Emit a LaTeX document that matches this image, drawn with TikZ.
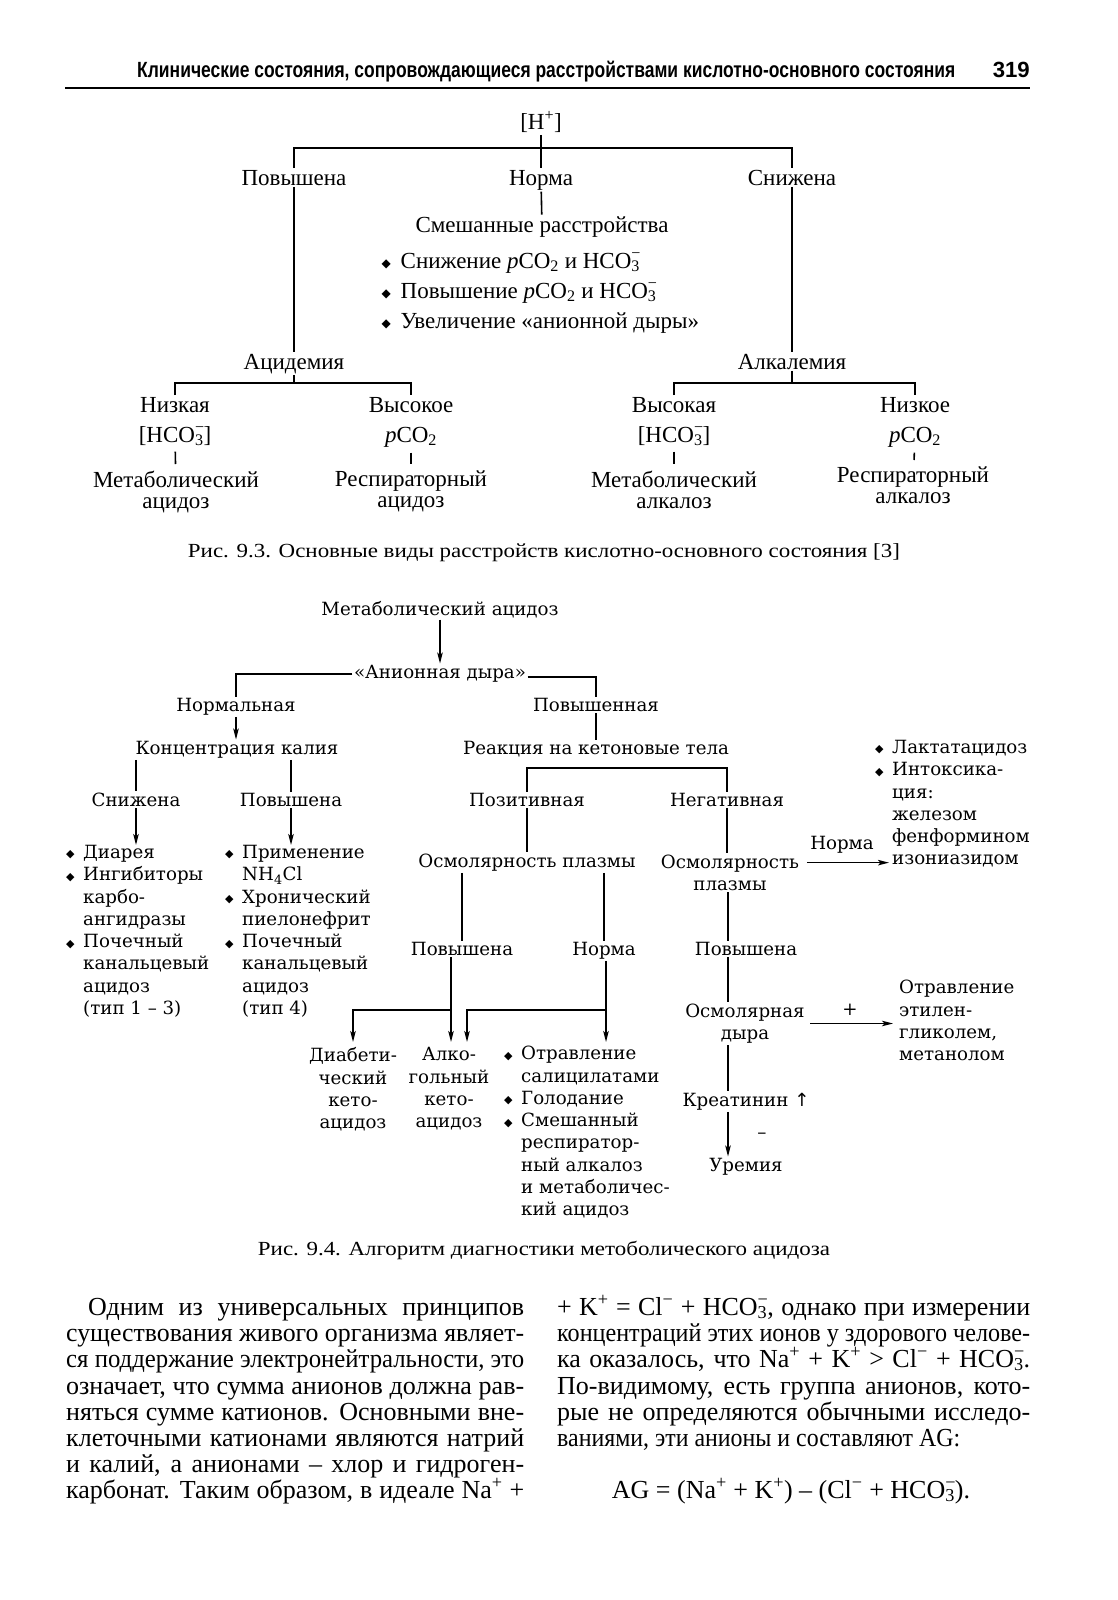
\documentclass[tikz,border=0pt]{standalone}
\usepackage{fontspec}
\usepackage{graphicx}
\usetikzlibrary{arrows.meta,calc}
\setmainfont{Liberation Serif}
\newfontfamily\dvs{DejaVu Serif}
\newfontfamily\dvsans{DejaVu Sans}
\newfontfamily\lsans{Liberation Sans}
\newcommand\fA{\fontsize{23}{21.5}\selectfont}
\newcommand\fB{\dvs\fontsize{18.2}{22.3}\selectfont}
\newcommand\fC{\fontsize{26}{26}\selectfont}
\newcommand\sbsp[2]{\rlap{\textsuperscript{#2}}\textsubscript{#1}}
\newcommand\hco{HCO\sbsp{3}{−}}
\newcommand\pco{\textit{p}CO\textsubscript{2}}
\newcommand\bulA{\makebox[19pt][l]{\raisebox{1pt}{\dvsans\fontsize{12}{12}\selectfont ◆}}}
\newcommand\bulB{\makebox[17pt][l]{\raisebox{0.5pt}{\dvsans\fontsize{11}{11}\selectfont ◆}}}
\newcommand\indB{\hspace*{17pt}}
\newsavebox\jlbox
\newcommand\jl[2]{\sbox\jlbox{#2}\ifdim\wd\jlbox>#1\relax\resizebox{#1}{\height}{\usebox\jlbox}\else\makebox[#1][s]{#2}\fi}
\newcommand\fitw[2]{\resizebox{#1}{\height}{#2}}
\tikzset{
  ln/.style={line width=1.6pt},
  arr/.style={line width=1.5pt,-{Stealth[length=11pt,width=5.5pt,inset=2.5pt]}},
  tA/.style={font=\fA, inner sep=1.5pt, align=center},
  tB/.style={font=\fB, inner sep=1.5pt, align=center},
  lB/.style={font=\fB, inner sep=0pt, align=left, anchor=north west},
  body/.style={font=\fC, inner sep=0pt, anchor=base west},
  short/.style={shorten <=4pt, shorten >=5pt}
}
\begin{document}
\begin{tikzpicture}[x=1pt,y=1pt]
\fill[white] (0,0) rectangle (1117,-1600);
\useasboundingbox (0,0) rectangle (1117,-1600);

% ---------- header ----------
\node[anchor=base west, inner sep=0pt, font=\lsans\bfseries\fontsize{22}{22}\selectfont] (hdr) at (137,-78)
  {\fitw{818pt}{Клинические состояния, сопровождающиеся расстройствами кислотно-основного состояния}};
\node[anchor=base east, inner sep=0pt, font=\lsans\bfseries\fontsize{22}{22}\selectfont] (pg) at (1030,-78) {\fitw{37pt}{319}};
\coordinate (ruleL) at (65,-88);
\coordinate (ruleR) at (1030,-88);
\draw[line width=2pt] (ruleL) -- (ruleR);

% ---------- Fig 9.3 ----------
\node[tA, anchor=base] (H) at (541,-130) {[H\textsuperscript{+}]};
\node[tA, anchor=base] (pov1) at (294,-185) {Повышена};
\node[tA, anchor=base] (norm1) at (541,-185) {Норма};
\node[tA, anchor=base] (sni1) at (792,-185) {Снижена};
\node[tA, anchor=base] (mix) at (542,-232) {Смешанные расстройства};
\node[tA, anchor=base west] (b1) at (380,-268) {\bulA Снижение \pco{} и \hco};
\node[tA, anchor=base west] (b2) at (380,-298) {\bulA Повышение \pco{} и \hco};
\node[tA, anchor=base west] (b3) at (380,-328) {\bulA Увеличение «анионной дыры»};
\node[tA, anchor=base] (acid) at (294,-369) {Ацидемия};
\node[tA, anchor=base] (alk) at (792,-369) {Алкалемия};
\node[tA, anchor=base] (n1) at (175,-412) {Низкая};
\node[tA, anchor=base] (v1) at (411,-412) {Высокое};
\node[tA, anchor=base] (v2) at (674,-412) {Высокая};
\node[tA, anchor=base] (n2) at (915,-412) {Низкое};
\node[tA, anchor=base] (h1) at (175,-442) {[\hco]};
\node[tA, anchor=base] (p1) at (411,-442) {\pco};
\node[tA, anchor=base] (h2) at (674,-442) {[\hco]};
\node[tA, anchor=base] (p2) at (915,-442) {\pco};
\node[tA, anchor=north] (m1) at (176,-469) {Метаболический\\ацидоз};
\node[tA, anchor=north] (r1) at (411,-469) {Респираторный\\ацидоз};
\node[tA, anchor=north] (m2) at (674,-469) {Метаболический\\алкалоз};
\node[tA, anchor=north] (r2) at (913,-465) {Респираторный\\алкалоз};

\coordinate (bar1) at (541,-148);
\coordinate (bar2) at (294,-383);
\coordinate (bar3) at (792,-383);
\draw[ln] (H) -- (norm1);
\draw[ln] (pov1.north) |- (bar1) -| (sni1.north);
\draw[ln] (norm1) -- (mix);
\draw[ln] (pov1) -- (acid);
\draw[ln] (sni1) -- (alk);
\draw[ln] (acid) -- (bar2);
\draw[ln] (n1.north) |- (bar2) -| (v1.north);
\draw[ln] (alk) -- (bar3);
\draw[ln] (v2.north) |- (bar3) -| (n2.north);
\draw[ln, short] (h1) -- (m1);
\draw[ln, short] (p1) -- (r1);
\draw[ln, short] (h2) -- (m2);
\draw[ln, short] (p2) -- (r2);

\node[anchor=base, inner sep=0pt, font=\fontsize{20}{20}\selectfont] (cap1) at (544,-557)
  {\fitw{712pt}{Рис. 9.3. Основные виды расстройств кислотно-основного состояния [3]}};

% ---------- Fig 9.4 ----------
\node[tB, anchor=base] (ma) at (440,-615.5) {Метаболический ацидоз};
\node[tB, anchor=base] (ag) at (440,-678.5) {«Анионная дыра»};
\node[tB, anchor=base] (norm2) at (236,-711.5) {Нормальная};
\node[tB, anchor=base] (pov2) at (596,-711.5) {Повышенная};
\node[tB, anchor=base] (kal) at (237,-754.5) {Концентрация калия};
\node[tB, anchor=base] (ket) at (596,-754.5) {Реакция на кетоновые тела};
\node[tB, anchor=base] (sn2) at (136,-806.5) {Снижена};
\node[tB, anchor=base] (pv2) at (291,-806.5) {Повышена};
\node[tB, anchor=base] (pos) at (527,-806.5) {Позитивная};
\node[tB, anchor=base] (neg) at (727,-806.5) {Негативная};
\node[tB, anchor=base] (osm1) at (527,-867.5) {Осмолярность плазмы};
\node[tB, anchor=north] (osm2) at (730,-853) {Осмолярность\\плазмы};
\node[lB] (lst) at (875,-740) {\bulB Лактатацидоз\\\bulB Интоксика-\\\indB ция:\\\indB железом\\\indB фенформином\\\indB изониазидом};
\node[tB, anchor=base] (lblN) at (842,-849.5) {Норма};
\node[tB, anchor=base] (pov3) at (462,-955.5) {Повышена};
\node[tB, anchor=base] (nrm3) at (604,-955.5) {Норма};
\node[tB, anchor=base] (pov4) at (746,-955.5) {Повышена};
\node[tB, anchor=north] (osmg) at (745,-1002) {Осмолярная\\дыра};
\node[tB, anchor=base] (lblP) at (850,-1015) {+};
\node[lB] (poison) at (899,-980) {Отравление\\этилен-\\гликолем,\\метанолом};
\node[tB, anchor=base] (kreat) at (746,-1106.5) {Креатинин {\dvsans↑}};
\node[tB, anchor=base] (lblM) at (762,-1138) {–};
\node[tB, anchor=base] (urem) at (746,-1171.5) {Уремия};

\node[lB] (list1) at (66,-845) {\bulB Диарея\\\bulB Ингибиторы\\\indB карбо-\\\indB ангидразы\\\bulB Почечный\\\indB канальцевый\\\indB ацидоз\\\indB (тип 1 – 3)};
\node[lB] (list2) at (225,-845) {\bulB Применение\\\indB NH\textsubscript{4}Cl\\\bulB Хронический\\\indB пиелонефрит\\\bulB Почечный\\\indB канальцевый\\\indB ацидоз\\\indB (тип 4)};

\node[tB, anchor=north] (diab) at (353,-1046) {Диабети-\\ческий\\кето-\\ацидоз};
\node[tB, anchor=north] (alko) at (449,-1046) {Алко-\\гольный\\кето-\\ацидоз};
\node[lB] (lst3) at (504,-1046) {\bulB Отравление\\\indB салицилатами\\\bulB Голодание\\\bulB Смешанный\\\indB респиратор-\\\indB ный алкалоз\\\indB и метаболичес-\\\indB кий ацидоз};

\coordinate (rl) at (728,0);
\coordinate (lxA) at (451,0);
\coordinate (lxB) at (606,0);
\coordinate (lxC) at (467,0);
\coordinate (jA) at (451,-1010);
\coordinate (jB) at (606,-1010);
\coordinate (kb) at (596,-768);

\draw[arr] (ma) -- (ag);
\draw[ln] (ag.west) -| (norm2.north);
\draw[ln] ([yshift=-3pt]ag.east) -| (pov2.north);
\draw[arr] (norm2.south) -- (norm2.south |- kal.north);
\draw[ln] (pov2) -- (ket);
\draw[ln] (kal.south -| sn2) -- (sn2.north);
\draw[ln] (kal.south -| pv2) -- (pv2.north);
\draw[arr] (sn2.south) -- (sn2.south |- list1.north);
\draw[arr] (pv2.south) -- (pv2.south |- list2.north);
\draw[ln] (pos.north) |- (kb) -| (neg.north);
\draw[ln] (pos) -- (osm1);
\draw[ln] (neg.south) -- (neg.south |- osm2.north);
\draw[arr, shorten <=6pt] (osm2.east |- osm1) -- ($(lst.west |- osm1)+(14pt,0)$);
\draw[ln] (osm1.south -| pov3) -- (pov3.north);
\draw[ln] (osm1.south -| nrm3) -- (nrm3.north);
\draw[ln] (osm2.south -| rl) -- (pov4.north -| rl);
\draw[ln] (pov4.south -| rl) -- (osmg.north -| rl);
\draw[arr, shorten <=4pt] (osmg.east) -- ([xshift=-6pt]poison.west |- osmg);
\draw[ln] (osmg.south -| rl) -- (kreat.north -| rl);
\draw[arr] (kreat.south -| rl) -- (urem.north -| rl);
\draw[arr, shorten >=4pt] (pov3.south -| lxA) -- (alko.north -| lxA);
\draw[arr, shorten >=4pt] (jA) -| (diab.north);
\draw[arr, shorten >=4pt] (nrm3.south -| lxB) -- (lst3.north -| lxB);
\draw[arr, shorten >=4pt] (jB) -| (alko.north -| lxC);

\node[anchor=base, inner sep=0pt, font=\fontsize{20}{20}\selectfont] (cap2) at (544,-1255)
  {\fitw{572pt}{Рис. 9.4. Алгоритм диагностики метоболического ацидоза}};

% ---------- body text ----------
\node[body] (L1) at (88,-1315) {\jl{436pt}{Одним из универсальных принципов}};
\node[body] (L2) at (66,-1341) {\jl{458pt}{существования живого организма являет-}};
\node[body] (L3) at (66,-1367) {\jl{458pt}{ся поддержание электронейтральности, это}};
\node[body] (L4) at (66,-1394) {\jl{458pt}{означает, что сумма анионов должна рав-}};
\node[body] (L5) at (66,-1420) {\jl{458pt}{няться сумме катионов. Основными вне-}};
\node[body] (L6) at (66,-1446) {\jl{458pt}{клеточными катионами являются натрий}};
\node[body] (L7) at (66,-1472) {\jl{458pt}{и калий, а анионами – хлор и гидроген-}};
\node[body] (L8) at (66,-1498) {\jl{458pt}{карбонат. Таким образом, в идеале Na\textsuperscript{+} +}};
\node[body] (R1) at (557,-1315) {\jl{473pt}{+ K\textsuperscript{+} = Cl\textsuperscript{−} + \hco, однако при измерении}};
\node[body] (R2) at (557,-1341) {\jl{473pt}{концентраций этих ионов у здорового челове-}};
\node[body] (R3) at (557,-1367) {\jl{473pt}{ка оказалось, что Na\textsuperscript{+} + K\textsuperscript{+} > Cl\textsuperscript{−} + \hco.}};
\node[body] (R4) at (557,-1394) {\jl{473pt}{По-видимому, есть группа анионов, кото-}};
\node[body] (R5) at (557,-1420) {\jl{473pt}{рые не определяются обычными исследо-}};
\node[body] (R6) at (557,-1446) {\jl{403pt}{ваниями, эти анионы и составляют AG:}};
\node[font=\fC, inner sep=0pt, anchor=base] (AG) at (791,-1498) {AG = (Na\textsuperscript{+} + K\textsuperscript{+}) – (Cl\textsuperscript{−} + \hco).};
\end{tikzpicture}
\end{document}
